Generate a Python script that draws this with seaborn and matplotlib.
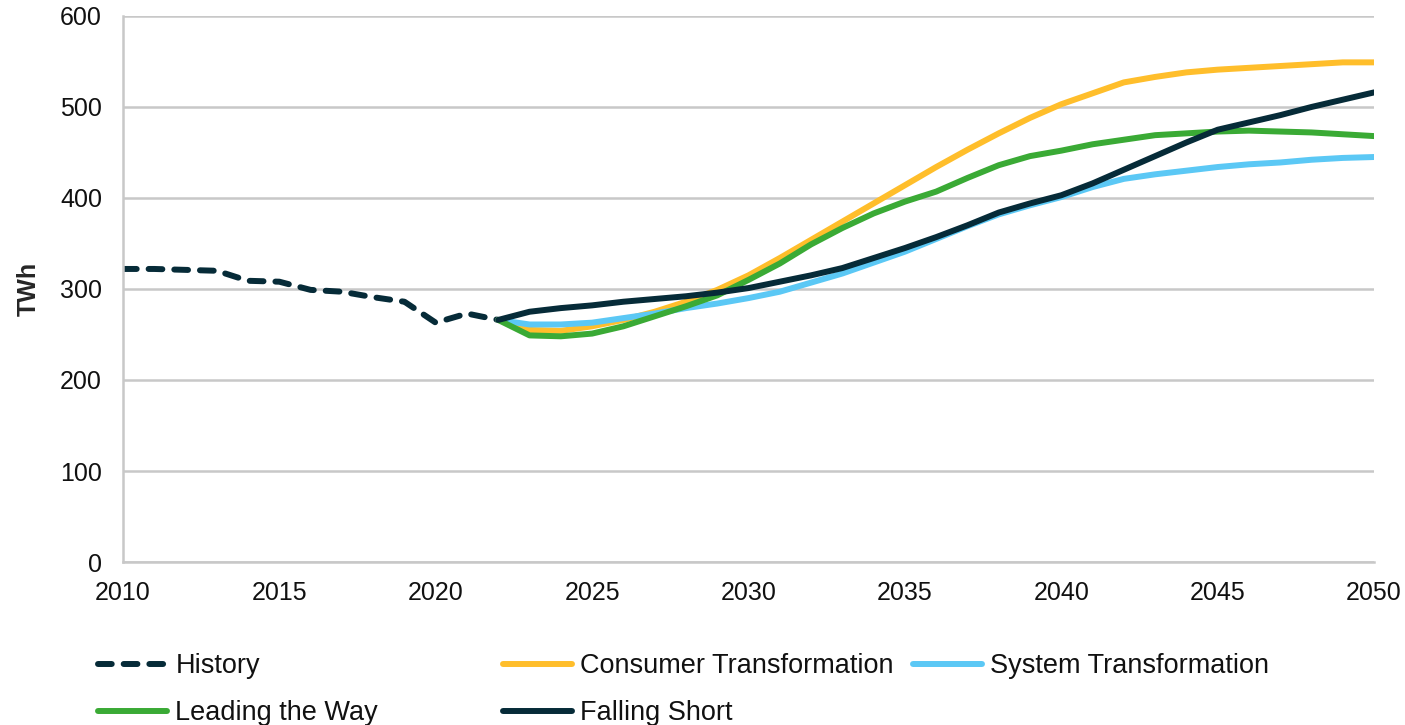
import pandas as pd
import matplotlib.pyplot as plt
import seaborn as sns
from matplotlib.lines import Line2D

# Historic demand, 2010-2022
hist_years = list(range(2010, 2023))
history = [322, 322, 321, 320, 309, 308, 299, 297, 291, 286, 263, 273, 266]

# Scenario projections, 2022-2050
scen_years = list(range(2022, 2051))
consumer = [266, 255, 254, 259, 266, 275, 286, 299, 315, 334, 354, 374, 394, 414, 434,
            453, 471, 488, 503, 515, 527, 533, 538, 541, 543, 545, 547, 549, 549]
system = [266, 261, 261, 263, 268, 273, 279, 284, 290, 297, 307, 317, 329, 341, 355,
          369, 382, 392, 401, 412, 421, 426, 430, 434, 437, 439, 442, 444, 445]
leading = [266, 249, 248, 251, 259, 270, 281, 293, 310, 328, 349, 367, 383, 396, 407,
           422, 436, 446, 452, 459, 464, 469, 471, 473, 474, 473, 472, 470, 468]
falling = [266, 275, 279, 282, 286, 289, 292, 296, 301, 308, 315, 323, 334, 345, 357,
           370, 384, 394, 403, 416, 431, 446, 461, 475, 483, 491, 500, 508, 516]

sns.set_theme(style="white")
plt.rcParams['font.family'] = ['Liberation Sans', 'DejaVu Sans']

colors = {
    'History': '#062b38',
    'Consumer Transformation': '#ffbe2b',
    'System Transformation': '#5bc8f5',
    'Leading the Way': '#3aaa35',
    'Falling Short': '#062b38',
}
dash = (0, (2.3, 2.0))

fig = plt.figure(figsize=(14.05, 7.25), dpi=100)
ax = fig.add_axes([0.0875, 0.2248, 0.8905, 0.7532])

lw = 4.3
df_hist = pd.DataFrame({'year': hist_years, 'TWh': history})
sns.lineplot(data=df_hist, x='year', y='TWh', ax=ax, color=colors['History'],
             linewidth=lw, linestyle=dash, dash_capstyle='round')

for name, vals in [('Consumer Transformation', consumer), ('System Transformation', system),
                   ('Leading the Way', leading), ('Falling Short', falling)]:
    d = pd.DataFrame({'year': scen_years, 'TWh': vals})
    sns.lineplot(data=d, x='year', y='TWh', ax=ax, color=colors[name],
                 linewidth=lw, solid_capstyle='round')

ax.set_xlim(2010, 2050)
ax.set_ylim(0, 600)
ax.set_xticks(range(2010, 2051, 5))
ax.set_yticks(range(0, 601, 100))
ax.yaxis.grid(True, color='#c8c8c8', linewidth=1.8)
ax.xaxis.grid(False)
for s in ['top', 'right']:
    ax.spines[s].set_visible(False)
for s in ['left', 'bottom']:
    ax.spines[s].set_color('#c8c8c8')
    ax.spines[s].set_linewidth(1.8)
ax.tick_params(axis='both', labelsize=18, colors='#111111', length=0)
ax.tick_params(axis='y', pad=15)
ax.tick_params(axis='x', pad=14)
ax.set_xlabel('')
ax.set_ylabel('TWh', fontsize=18, fontweight='bold', labelpad=14)

# legend laid out in three columns below the chart
def handle(name):
    if name == 'History':
        return Line2D([], [], color=colors[name], linewidth=lw, linestyle=dash,
                      dash_capstyle='round')
    return Line2D([], [], color=colors[name], linewidth=lw, solid_capstyle='round')

columns = [(['History', 'Leading the Way'], 0.0698),
           (['Consumer Transformation', 'Falling Short'], 0.358),
           (['System Transformation'], 0.650)]
for names, xpos in columns:
    leg = fig.legend([handle(n) for n in names], names, loc='upper left',
                     bbox_to_anchor=(xpos, 0.099), frameon=False, fontsize=19.5,
                     handlelength=2.55, handletextpad=0.3, labelspacing=0.78,
                     borderaxespad=0, borderpad=0)
    for t in leg.get_texts():
        t.set_color('#111111')

fig.savefig('out.png', dpi=100)
